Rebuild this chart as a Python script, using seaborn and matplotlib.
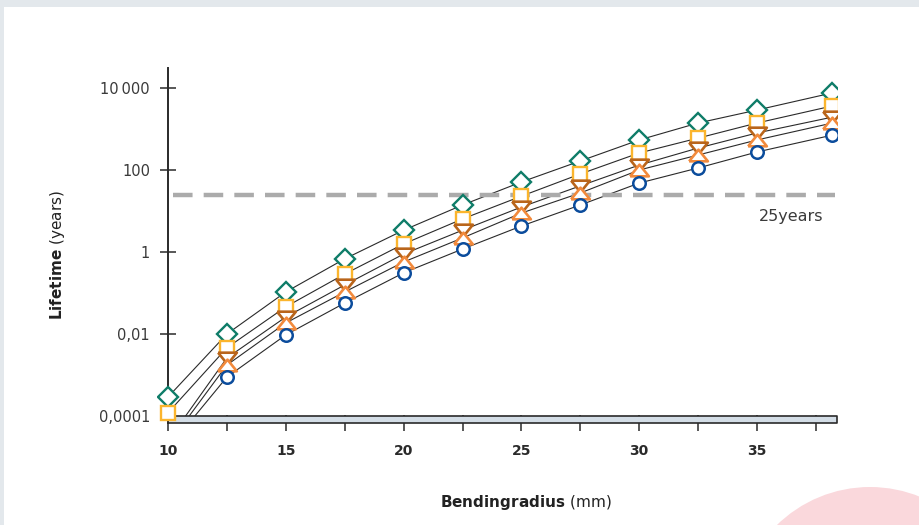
import matplotlib
matplotlib.use("Agg")
import matplotlib.pyplot as plt
import seaborn as sns
from matplotlib.patches import Rectangle, Ellipse

# ---------------- data ----------------
radius = [10, 12.5, 15, 17.5, 20, 22.5, 25, 27.5, 30, 32.5, 35, 38.2]
life_diamond = [2.9e-4, 0.010, 0.106, 0.68, 3.4, 14, 51, 166, 540, 1400, 2900, 7600]
life_square = [1.2e-4, 0.0046, 0.046, 0.29, 1.57, 6.4, 23, 80, 260, 600, 1400, 3650]
life_tri_down = [2.5e-5, 0.0026, 0.026, 0.157, 0.89, 3.4, 12.5, 41, 132, 343, 800, 1950]
life_tri_up = [2.0e-5, 0.00175, 0.0186, 0.106, 0.57, 2.2, 8.9, 27.5, 100, 232, 540, 1400]
life_circle = [1.6e-5, 8.9e-4, 0.0095, 0.057, 0.31, 1.18, 4.3, 14, 48, 112, 275, 710]

xtick_values = [10, 12.5, 15, 17.5, 20, 22.5, 25, 27.5, 30, 32.5, 35, 37.5]
xtick_labels = ["10", "", "15", "", "20", "", "25", "", "30", "", "35", ""]
ytick_values = [1e-4, 1e-2, 1, 100, 1e4]
ytick_labels = ["0,0001", "0,01", "1", "100", "10\u2009000"]
threshold_years = 25
threshold_label = "25years"
x_label = r"$\mathbf{Bendingradius}$ (mm)"
y_label = r"$\mathbf{Lifetime}$ (years)"

# ---------------- styles ----------------
tri_down = [(-1, 0.62), (1, 0.62), (0, -0.62), (-1, 0.62)]
tri_up = [(-1, -0.62), (1, -0.62), (0, 0.62), (-1, -0.62)]
series = [
    (life_diamond, "D", "#0e7c68", 10.3, 1.7),
    (life_square, "s", "#fbb52d", 10.0, 1.7),
    (life_tri_down, tri_down, "#b9651b", 13.5, 1.9),
    (life_tri_up, tri_up, "#f28a3c", 13.5, 1.9),
    (life_circle, "o", "#0b4c9c", 9.0, 1.8),
]

sns.set_theme(style="white")
plt.rcParams["font.family"] = ["DejaVu Sans"]
plt.rcParams["mathtext.fontset"] = "dejavusans"

W, H = 920, 525
fig = plt.figure(figsize=(W / 100, H / 100), dpi=100)
fig.patch.set_facecolor("white")

# frame strips and decorative circle
fig.patches.append(Rectangle((0, 1 - 7 / H), 1, 7 / H, transform=fig.transFigure,
                             facecolor="#e3e8ec", edgecolor="none", zorder=0))
fig.patches.append(Rectangle((0, 0), 4 / W, 1, transform=fig.transFigure,
                             facecolor="#e3e8ec", edgecolor="none", zorder=0))
fig.patches.append(Ellipse((870 / W, -95 / H), 2 * 133 / W, 2 * 133 / H,
                           transform=fig.transFigure, facecolor="#fad8dc",
                           edgecolor="none", zorder=0))

ax_left, ax_right, ax_top, ax_bottom = 157.4, 837, 68, 423
ax = fig.add_axes([ax_left / W, 1 - ax_bottom / H, (ax_right - ax_left) / W,
                   (ax_bottom - ax_top) / H])
ax.set_facecolor("none")
ax.set_yscale("log")

px_per_unit = 23.56
x_min = 10 - (168 - ax_left) / px_per_unit
x_max = 10 + (ax_right - 168) / px_per_unit
px_per_dec = 41.0
y_lo = 10 ** ((252 - ax_bottom) / px_per_dec)
y_hi = 10 ** ((252 - ax_top) / px_per_dec)

for vals, m, col, ms, mew in series:
    sns.lineplot(x=radius, y=vals, ax=ax, color="#2a2a2a", lw=0.8,
                 estimator=None, sort=False, zorder=1.5)

# base bar below the curves
ax.fill_between([10, x_max], [y_lo, y_lo], [1e-4, 1e-4], facecolor="#d3dde6",
                edgecolor="#2a2a2a", lw=1.2, zorder=2)

# threshold line
ax.hlines(threshold_years, 10.22, x_max - 0.08, colors="#ababab", lw=3.2,
          linestyles=(0, (4.4, 2.5)), zorder=1.8)
ax.annotate(threshold_label, xy=(37.8, threshold_years), xytext=(0, -15.5),
            textcoords="offset points", ha="right", va="center",
            fontsize=11.5, color="#3a3a3a")

for vals, m, col, ms, mew in series:
    sns.lineplot(x=radius, y=vals, ax=ax, linestyle="none", marker=m,
                 markersize=ms, markerfacecolor="white", markeredgecolor=col,
                 markeredgewidth=mew, estimator=None, sort=False, zorder=3)

ax.set_xlim(x_min, x_max)
ax.set_ylim(y_lo, y_hi)

for s in ["top", "right", "bottom"]:
    ax.spines[s].set_visible(False)
ax.spines["left"].set_position(("data", 10))
ax.spines["left"].set_color("#2a2a2a")
ax.spines["left"].set_linewidth(1.4)
ax.spines["left"].set_zorder(2.6)

ax.set_xticks(xtick_values)
ax.set_xticklabels(xtick_labels, fontweight="bold", fontsize=10, color="#2a2a2a")
ax.set_yticks(ytick_values)
ax.set_yticklabels(ytick_labels, fontsize=10.5, color="#3a3a3a")
ax.minorticks_off()
ax.tick_params(axis="x", direction="inout", length=12, width=1.1, color="#2a2a2a",
               pad=9, bottom=True)
ax.tick_params(axis="y", direction="inout", length=12, width=1.1, color="#2a2a2a",
               pad=7, left=True)
ax.set_xlabel("")
ax.set_ylabel("")
ax.grid(False)

fig.text(58 / W, 1 - 255 / H, y_label, rotation=90, ha="center", va="center",
         fontsize=11, color="#222222")
fig.text(526 / W, 1 - 502 / H, x_label, ha="center", va="center",
         fontsize=11, color="#222222")

fig.savefig("out.png", dpi=100)
